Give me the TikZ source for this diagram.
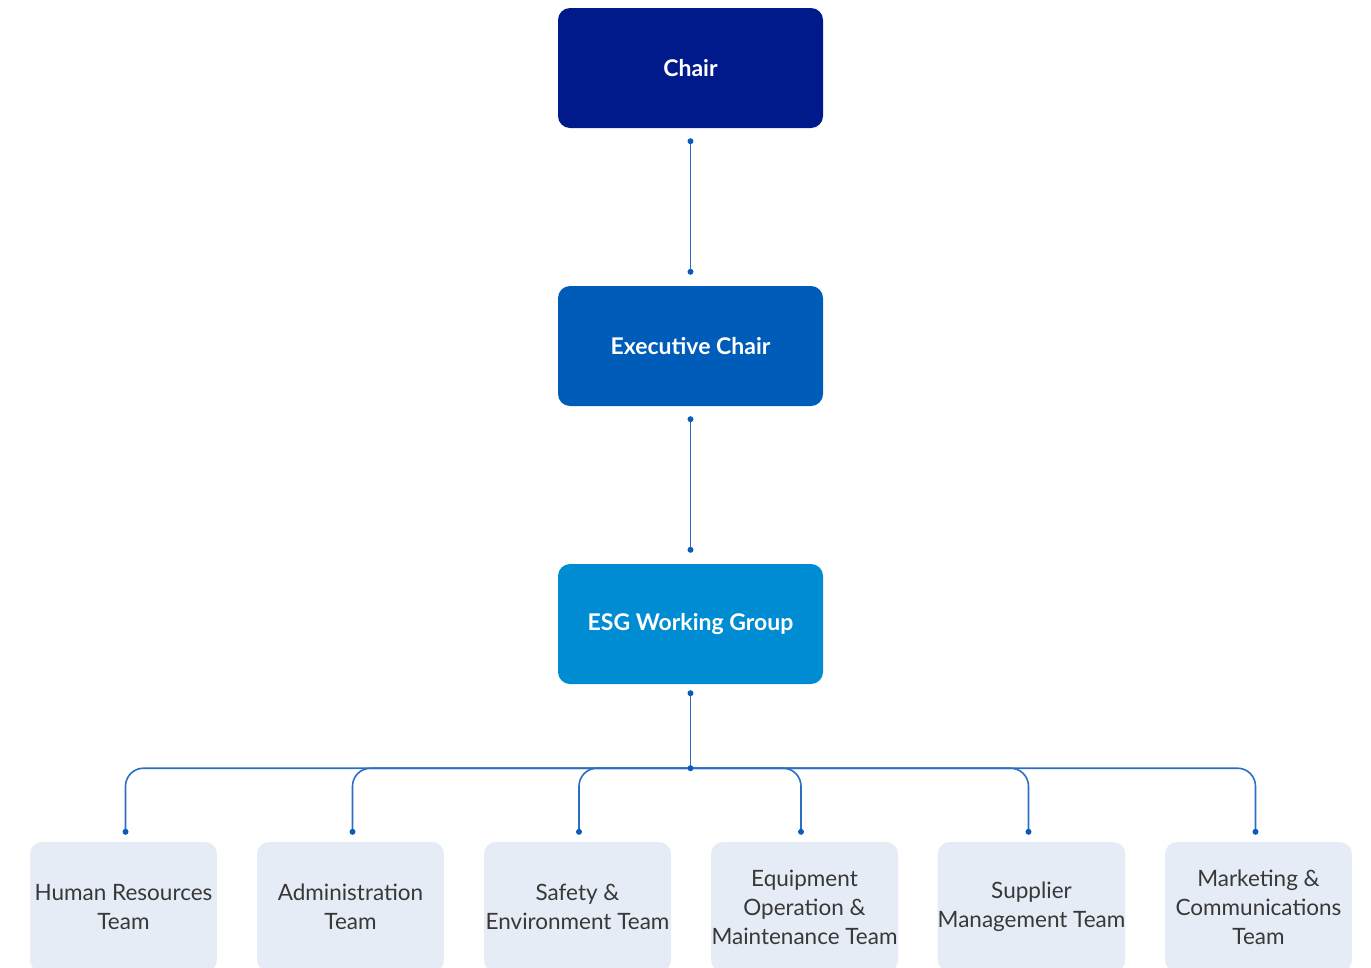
\documentclass[tikz,border=0pt]{standalone}
\usepackage{fontspec}
\setmainfont{Lato}
\usetikzlibrary{calc}
\definecolor{navy}{HTML}{001A8C}
\definecolor{midblue}{HTML}{005CB9}
\definecolor{skyblue}{HTML}{008CD3}
\definecolor{teamfill}{HTML}{E6ECF5}
\definecolor{teamtext}{HTML}{383838}
\definecolor{linkblue}{HTML}{2C6FC2}
\definecolor{dotblue}{HTML}{0B5CB8}
\tikzset{
  lead/.style={rounded corners=12pt, minimum width=265pt, minimum height=120pt,
    text=white, font=\fontsize{23}{27}\selectfont\bfseries, inner sep=0pt},
  team/.style={rounded corners=12pt, fill=teamfill, minimum width=187pt, minimum height=130pt,
    text=teamtext, font=\fontsize{22.5}{29}\selectfont, align=center, inner sep=0pt},
  link/.style={draw=linkblue, line width=1.6pt},
  bus/.style={link, rounded corners=18pt},
  dot/.style={fill=dotblue},
}
\begin{document}
\begin{tikzpicture}[x=1pt,y=-1pt]
\useasboundingbox (0,0) rectangle (1371,967);
\clip (0,0) rectangle (1371,967);

% leadership chain
\node[lead, fill=navy]    (chair) at (690.5,68)  {Chair};
\node[lead, fill=midblue] (exec)  at (690.5,346) {Executive Chair};
\node[lead, fill=skyblue] (esg)   at (690.5,624) {ESG Working Group};

% teams
\node[team] (hr)   at (123.5,907) {Human Resources\\Team};
\node[team] (adm)  at (350.5,907) {Administration\\Team};
\node[team] (safe) at (577.5,907) {Safety \&\\Environment Team};
\node[team] (eqp)  at (804.5,907) {Equipment\\Operation \&\\Maintenance Team};
\node[team] (sup)  at (1031.5,907) {Supplier\\Management Team};
\node[team] (mkt)  at (1258.5,907) {Marketing \&\\Communications\\Team};

% connector end points
\coordinate (a1) at ([yshift=-13pt]chair.south);
\coordinate (a2) at ([yshift=14pt]exec.north);
\coordinate (b1) at ([yshift=-13pt]exec.south);
\coordinate (b2) at ([yshift=14pt]esg.north);
\coordinate (c1) at ([yshift=-9pt]esg.south);
\coordinate (hub) at ([yshift=-84pt]esg.south);
\coordinate (t1) at ([xshift=2pt,yshift=10pt]hr.north);
\coordinate (t2) at ([xshift=2pt,yshift=10pt]adm.north);
\coordinate (t3) at ([xshift=1.5pt,yshift=10pt]safe.north);
\coordinate (t4) at ([xshift=-3.5pt,yshift=10pt]eqp.north);
\coordinate (t5) at ([xshift=-3pt,yshift=10pt]sup.north);
\coordinate (t6) at ([xshift=-3pt,yshift=10pt]mkt.north);

\draw[link] (a1) -- (a2);
\draw[link] (b1) -- (b2);
\draw[link] (c1) -- (hub);
\foreach \t in {t1,t2,t3,t4,t5,t6}
  \draw[bus] (hub) -| (\t);

\foreach \p in {a1,a2,b1,b2,c1,hub,t1,t2,t3,t4,t5,t6}
  \fill[dot] (\p) circle (3pt);
\end{tikzpicture}
\end{document}
